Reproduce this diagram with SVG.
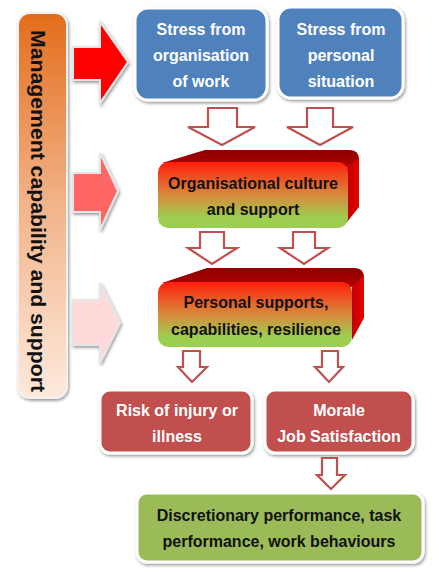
<svg xmlns="http://www.w3.org/2000/svg" width="439" height="573" viewBox="0 0 439 573">
<defs>
<filter id="sh" x="-10%" y="-10%" width="125%" height="125%">
<feDropShadow dx="1.2" dy="1.8" stdDeviation="1.4" flood-color="#000" flood-opacity="0.4"/>
</filter>
<linearGradient id="gBar" x1="0" y1="0" x2="0" y2="1">
<stop offset="0" stop-color="#e36c1a"/>
<stop offset="0.5" stop-color="#f2b48a"/>
<stop offset="1" stop-color="#fdeadc"/>
</linearGradient>
<linearGradient id="gFront" x1="0" y1="0" x2="0" y2="1">
<stop offset="0" stop-color="#ff1e0a"/>
<stop offset="0.5" stop-color="#d98a3e"/>
<stop offset="0.85" stop-color="#9ccf4f"/>
<stop offset="1" stop-color="#9ccf4f"/>
</linearGradient>
<linearGradient id="gTop" x1="0" y1="0" x2="0" y2="1">
<stop offset="0" stop-color="#8e0000"/>
<stop offset="1" stop-color="#b00000"/>
</linearGradient>
<linearGradient id="gSide" x1="0" y1="0" x2="1" y2="0">
<stop offset="0" stop-color="#c00000"/>
<stop offset="1" stop-color="#e80000"/>
</linearGradient>
</defs>
<style>
.t{font-family:"Liberation Sans",Arial,sans-serif;font-weight:bold;font-size:16px;text-anchor:middle}
.w{fill:#fff}
.k{fill:#111}
.box{stroke:#fff;stroke-width:3;filter:url(#sh)}
.hol{fill:#fff;stroke:#c0504d;stroke-width:2.2;stroke-linejoin:miter}
.rar{stroke:#e6e6e6;stroke-width:2;filter:url(#sh)}
</style>

<g id="management">
<rect x="18" y="13" width="49" height="385" rx="12" fill="url(#gBar)" stroke="#f2f2f2" stroke-width="2" filter="url(#sh)"/>
<text class="t k" transform="translate(38,211) rotate(90)" y="7" style="font-size:20px" textLength="362" lengthAdjust="spacingAndGlyphs">Management capability and support</text>
</g>

<g id="stress-work">
<rect class="box" x="135" y="8" width="132" height="92" rx="13" fill="#4f81bd"/>
<text class="t w" x="201" y="35">Stress from</text>
<text class="t w" x="201" y="61">organisation</text>
<text class="t w" x="201" y="87">of work</text>
</g>

<g id="stress-personal">
<rect class="box" x="278" y="7" width="125" height="91" rx="13" fill="#4f81bd"/>
<text class="t w" x="341" y="35">Stress from</text>
<text class="t w" x="341" y="61">personal</text>
<text class="t w" x="341" y="87">situation</text>
</g>

<g id="org-culture">
<path d="M162,163 L205,150 L350,150 Q359,150 359,160 L347,167 Z" fill="url(#gTop)"/>
<path d="M347,167 L359,158 L359,207 L347,222 Z" fill="url(#gSide)"/>
<rect x="158" y="162" width="190" height="66" rx="10" fill="url(#gFront)"/>
<text class="t k" x="253" y="189">Organisational culture</text>
<text class="t k" x="253" y="215">and support</text>
</g>

<g id="personal-supports">
<path d="M162,283 L207,268 L355,268 Q364,268 364,278 L352,287 Z" fill="url(#gTop)"/>
<path d="M352,287 L364,276 L364,318 L352,340 Z" fill="url(#gSide)"/>
<rect x="158" y="282" width="194" height="65" rx="10" fill="url(#gFront)"/>
<text class="t k" x="256" y="308">Personal supports,</text>
<text class="t k" x="256" y="335">capabilities, resilience</text>
</g>

<g id="risk">
<rect class="box" x="100" y="390" width="152" height="63" rx="10" fill="#c0504d"/>
<text class="t w" x="177" y="416">Risk of injury or</text>
<text class="t w" x="177" y="442">illness</text>
</g>

<g id="morale">
<rect class="box" x="265" y="390" width="148" height="63" rx="10" fill="#c0504d"/>
<text class="t w" x="339" y="416">Morale</text>
<text class="t w" x="339" y="442">Job Satisfaction</text>
</g>

<g id="performance">
<rect class="box" x="137" y="493" width="286" height="69" rx="10" fill="#9bbb59"/>
<text class="t k" x="279" y="521">Discretionary performance, task</text>
<text class="t k" x="279" y="547">performance, work behaviours</text>
</g>

<g id="connectors">
<path class="rar" fill="#ff0000" d="M73,47 L100,47 L100,22 L128,62 L100,103 L100,80 L73,80 Z"/>
<path class="rar" fill="#ff6666" d="M73,173 L100,173 L100,153 L118,191 L100,230 L100,212 L73,212 Z"/>
<path class="rar" fill="#ffd9d9" d="M73,300 L100,300 L100,283 L120,323 L100,363 L100,345 L73,345 Z"/>

<path class="hol" d="M208,108 L237,108 L237,127 L255,127 L222,145 L188,127 L208,127 Z"/>
<path class="hol" d="M307,108 L333,108 L333,127 L353,127 L320,145 L287,127 L307,127 Z"/>
<path class="hol" d="M200,232 L224,232 L224,248 L237,248 L212,264 L188,248 L200,248 Z"/>
<path class="hol" d="M293,232 L315,232 L315,248 L328,248 L304,264 L280,248 L293,248 Z"/>
<path class="hol" d="M183,351 L200,351 L200,367 L207,367 L192,382 L178,367 L183,367 Z"/>
<path class="hol" d="M322,351 L338,351 L338,367 L343,367 L329,382 L315,367 L322,367 Z"/>
<path class="hol" d="M322,458 L337,458 L337,475 L345,475 L331,489 L317,475 L322,475 Z"/>
</g>
</svg>
